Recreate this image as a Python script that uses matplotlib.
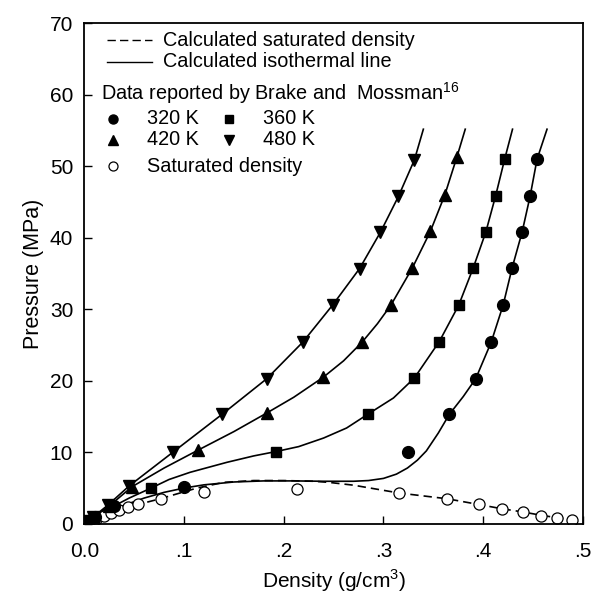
import numpy as np
import matplotlib
matplotlib.use("Agg")
import matplotlib.pyplot as plt

plt.rcParams["font.family"] = ["Liberation Sans", "DejaVu Sans"]
plt.rcParams["mathtext.fontset"] = "custom"
plt.rcParams["mathtext.rm"] = "Liberation Sans"

# measured data (Brake and Mossman), density g/cm3 vs pressure MPa
rho_320 = [0.004, 0.011, 0.030, 0.100, 0.3245, 0.366, 0.3925, 0.408, 0.420, 0.429, 0.439, 0.447, 0.454]
p_320 = [0.4, 1.0, 2.5, 5.1, 10.1, 15.3, 20.3, 25.4, 30.6, 35.8, 40.8, 45.8, 51.0]

rho_360 = [0.004, 0.010, 0.027, 0.067, 0.192, 0.284, 0.331, 0.356, 0.3755, 0.390, 0.4026, 0.4125, 0.4215]
p_360 = [0.4, 1.0, 2.5, 5.0, 10.1, 15.3, 20.4, 25.5, 30.6, 35.8, 40.8, 45.9, 51.0]

rho_420 = [0.003, 0.009, 0.025, 0.048, 0.114, 0.183, 0.2396, 0.2785, 0.3075, 0.329, 0.347, 0.3615, 0.3736]
p_420 = [0.4, 1.0, 2.5, 5.2, 10.3, 15.5, 20.5, 25.4, 30.6, 35.8, 40.9, 46.0, 51.3]

rho_480 = [0.003, 0.009, 0.0235, 0.045, 0.0887, 0.138, 0.183, 0.219, 0.249, 0.276, 0.297, 0.315, 0.331]
p_480 = [0.4, 1.0, 2.6, 5.3, 10.0, 15.3, 20.3, 25.4, 30.6, 35.7, 40.8, 45.8, 50.9]

rho_sat = [0.005, 0.012, 0.020, 0.027, 0.035, 0.0435, 0.054, 0.0774, 0.120, 0.213,
           0.316, 0.364, 0.3955, 0.419, 0.440, 0.458, 0.474, 0.489]
p_sat = [0.3, 0.7, 1.1, 1.5, 1.9, 2.3, 2.8, 3.5, 4.4, 4.87,
         4.3, 3.5, 2.7, 2.1, 1.7, 1.16, 0.83, 0.55]

# calculated curves
calc_rho_320 = [0.0, 0.01, 0.02, 0.04, 0.06, 0.08, 0.10, 0.12, 0.15, 0.18, 0.21, 0.24, 0.27,
                0.285, 0.30, 0.313, 0.324, 0.334, 0.343, 0.355, 0.366, 0.380, 0.3925, 0.408,
                0.420, 0.429, 0.439, 0.447, 0.454, 0.464]
calc_p_320 = [0.0, 0.75, 1.4, 2.6, 3.6, 4.4, 5.0, 5.45, 5.85, 6.0, 6.0, 5.95, 5.95,
              6.05, 6.35, 6.95, 7.8, 8.9, 10.2, 12.7, 15.3, 17.8, 20.3, 25.4,
              30.6, 35.8, 40.8, 45.8, 51.0, 55.2]

calc_rho_360 = [0.0, 0.01, 0.02, 0.03, 0.045, 0.067, 0.085, 0.106, 0.143, 0.17, 0.192, 0.215,
                0.24, 0.263, 0.284, 0.310, 0.331, 0.356, 0.3755, 0.390, 0.4026, 0.4125,
                0.4215, 0.4294]
calc_p_360 = [0.0, 0.9, 1.8, 2.5, 3.6, 5.0, 6.2, 7.2, 8.6, 9.5, 10.1, 10.8,
              12.0, 13.4, 15.3, 17.6, 20.4, 25.5, 30.6, 35.8, 40.8, 45.9,
              51.0, 55.2]

calc_rho_420 = [0.0, 0.012, 0.025, 0.048, 0.08, 0.114, 0.15, 0.183, 0.21, 0.2396, 0.26,
                0.2785, 0.294, 0.3075, 0.329, 0.347, 0.3615, 0.3736, 0.382]
calc_p_420 = [0.0, 1.2, 2.5, 5.2, 7.8, 10.3, 12.9, 15.5, 17.7, 20.5, 22.8,
              25.4, 28.0, 30.6, 35.8, 40.9, 46.0, 51.3, 55.2]

calc_rho_480 = [0.0, 0.012, 0.0235, 0.045, 0.0887, 0.138, 0.183, 0.219, 0.249, 0.276,
                0.297, 0.315, 0.331, 0.340]
calc_p_480 = [0.0, 1.3, 2.6, 5.3, 10.0, 15.3, 20.3, 25.4, 30.6, 35.7,
              40.8, 45.8, 50.9, 55.2]

calc_rho_sat = [0.0, 0.01, 0.02, 0.04, 0.076, 0.113, 0.14, 0.17, 0.20, 0.23, 0.245, 0.27,
                0.316, 0.364, 0.3955, 0.419, 0.44, 0.458, 0.474, 0.492]
calc_p_sat = [0.0, 0.6, 1.2, 2.2, 3.5, 5.0, 5.8, 6.05, 6.05, 5.95, 5.8, 5.4,
              4.3, 3.5, 2.7, 2.1, 1.65, 1.2, 0.85, 0.5]

x_ticks = [0.0, 0.1, 0.2, 0.3, 0.4, 0.5]
x_ticklabels = ["0.0", ".1", ".2", ".3", ".4", ".5"]
y_ticks = [0, 10, 20, 30, 40, 50, 60, 70]

fig = plt.figure(figsize=(5.95, 6.0), dpi=100)
ax = fig.add_axes([0.1417, 0.127, 0.838, 0.834])

lw = 1.2
ax.plot(calc_rho_sat, calc_p_sat, color="black", lw=lw, linestyle=(0, (5, 3)))
for r, p in [(calc_rho_320, calc_p_320), (calc_rho_360, calc_p_360),
             (calc_rho_420, calc_p_420), (calc_rho_480, calc_p_480)]:
    ax.plot(r, p, color="black", lw=lw)

ms = 8.5
ax.plot(rho_sat, p_sat, "o", ms=8, mfc="white", mec="black", mew=0.9)
ax.plot(rho_320, p_320, "o", ms=ms, color="black")
ax.plot(rho_360, p_360, "s", ms=7.5, color="black")
ax.plot(rho_420, p_420, "^", ms=ms, color="black")
ax.plot(rho_480, p_480, "v", ms=ms, color="black")

ax.set_xlim(0, 0.5)
ax.set_ylim(0, 70)
ax.set_xticks(x_ticks)
ax.set_xticklabels(x_ticklabels)
ax.set_yticks(y_ticks)
ax.tick_params(direction="in", length=6, width=1, labelsize=15)
ax.tick_params(axis="x", pad=13)
ax.tick_params(axis="y", pad=8)
for s in ax.spines.values():
    s.set_linewidth(1.3)

ax.set_xlabel("Density (g/cm$^3$)", fontsize=15, labelpad=5)
ax.set_ylabel("Pressure (MPa)", fontsize=15.5, labelpad=4)

# legend block drawn by hand
tr = ax.transAxes
fs = 14.3
ax.plot([0.0455, 0.136], [0.966, 0.966], transform=tr, color="black", lw=1, linestyle=(0, (6, 3)))
ax.text(0.158, 0.966, "Calculated saturated density", transform=tr, fontsize=fs, va="center")
ax.plot([0.0455, 0.136], [0.923, 0.923], transform=tr, color="black", lw=1)
ax.text(0.158, 0.923, "Calculated isothermal line", transform=tr, fontsize=fs, va="center")
ax.text(0.0335, 0.861, "Data reported by Brake and  Mossman$^{16}$", transform=tr,
        fontsize=fs, va="center")
ax.plot([0.0575], [0.809], "o", ms=6.5, color="black", transform=tr)
ax.text(0.1257, 0.809, "320 K", transform=tr, fontsize=fs, va="center")
ax.plot([0.290], [0.809], "s", ms=6, color="black", transform=tr)
ax.text(0.358, 0.809, "360 K", transform=tr, fontsize=fs, va="center")
ax.plot([0.0575], [0.767], "^", ms=6.5, color="black", transform=tr)
ax.text(0.1257, 0.767, "420 K", transform=tr, fontsize=fs, va="center")
ax.plot([0.290], [0.767], "v", ms=6.5, color="black", transform=tr)
ax.text(0.358, 0.767, "480 K", transform=tr, fontsize=fs, va="center")
ax.plot([0.0575], [0.715], "o", ms=6.5, mfc="white", mec="black", mew=0.9, transform=tr)
ax.text(0.1257, 0.715, "Saturated density", transform=tr, fontsize=fs, va="center")

fig.savefig("out.png", dpi=100)
